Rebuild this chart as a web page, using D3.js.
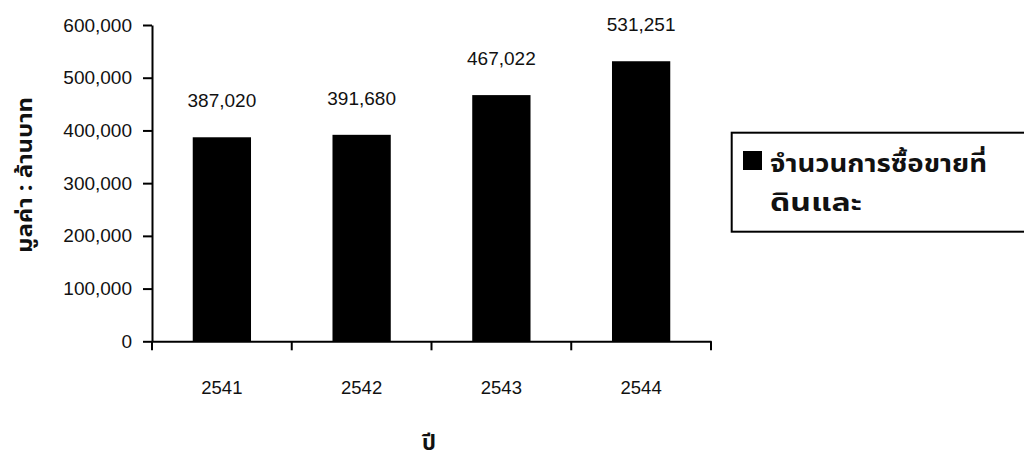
<!DOCTYPE html>
<html>
<head>
<meta charset="utf-8">
<script src="https://cdn.jsdelivr.net/npm/d3@7"></script>
<style>
  html, body { margin: 0; padding: 0; background: #ffffff; }
  svg { display: block; }
  text { font-family: "Liberation Sans", Arial, "Noto Sans Thai", sans-serif; fill: #111; }
  .thai { font-family: "Noto Sans Thai", "Loma", "Garuda", "Tahoma", "Liberation Sans", sans-serif; }
</style>
</head>
<body>
<svg id="chart" width="1024" height="460"></svg>
<script>
// ---- data ----
const years = ["2541", "2542", "2543", "2544"];
const values = [387020, 391680, 467022, 531251];
const yTickValues = [0, 100000, 200000, 300000, 400000, 500000, 600000];
const seriesName = ["จำนวนการซื้อขายที่", "ดินและ"];
const yTitle = "มูลค่า : ล้านบาท";
const xTitle = "ปี";

const svg = d3.select("#chart");
const plotLeft = 152, plotRight = 711, plotTop = 25, plotBottom = 341.3;

const y = d3.scaleLinear().domain([0, 600000]).range([plotBottom, plotTop]);
const xCat = d3.scaleBand().domain(years).range([plotLeft, plotRight]).padding(0);
const xBar = d3.scaleBand().domain(years).range([plotLeft, plotRight])
  .paddingInner(0.583).paddingOuter(0.2915);

// bars
svg.append("g").selectAll("rect").data(years).join("rect")
  .attr("x", d => xBar(d))
  .attr("width", xBar.bandwidth())
  .attr("y", (d, i) => y(values[i]))
  .attr("height", (d, i) => plotBottom - y(values[i]))
  .attr("fill", "#000");

// value labels
svg.append("g").selectAll("text").data(years).join("text")
  .attr("x", d => xBar(d) + xBar.bandwidth() / 2)
  .attr("y", (d, i) => y(values[i]) - 30)
  .attr("text-anchor", "middle")
  .style("font-size", "19px")
  .text((d, i) => d3.format(",")(values[i]));

// y axis
const yAxis = svg.append("g")
  .attr("transform", `translate(${plotLeft},0)`)
  .call(d3.axisLeft(y).tickValues(yTickValues).tickFormat(d3.format(",")).tickSize(9).tickPadding(11).tickSizeOuter(0));
yAxis.select(".domain").attr("stroke", "#000").attr("stroke-width", 2);
yAxis.selectAll(".tick line").attr("stroke", "#000").attr("stroke-width", 2);
yAxis.selectAll(".tick text").style("font-size", "19px").attr("fill", "#111")
  .style("font-family", "'Liberation Sans', Arial, sans-serif");

// x axis (labels at centers, ticks at category boundaries)
const xAxis = svg.append("g")
  .attr("transform", `translate(0,${plotBottom})`)
  .call(d3.axisBottom(xCat).tickSize(0).tickSizeOuter(0));
xAxis.select(".domain").attr("stroke", "#000").attr("stroke-width", 2);
xAxis.selectAll(".tick text").attr("y", 53).attr("dy", null)
  .style("font-size", "18.5px").attr("fill", "#111")
  .style("font-family", "'Liberation Sans', Arial, sans-serif");
const boundaries = years.map(d => xCat(d)).concat([xCat(years[years.length - 1]) + xCat.bandwidth()]);
xAxis.append("g").selectAll("line").data(boundaries).join("line")
  .attr("x1", d => d).attr("x2", d => d)
  .attr("y1", 0).attr("y2", 9)
  .attr("stroke", "#000").attr("stroke-width", 2);

// axis titles
svg.append("text").attr("class", "thai")
  .attr("transform", `translate(32,175) rotate(-90)`)
  .attr("text-anchor", "middle")
  .attr("textLength", 156).attr("lengthAdjust", "spacingAndGlyphs")
  .style("font-size", "21px").style("font-weight", "bold")
  .text(yTitle);
svg.append("text").attr("class", "thai")
  .attr("x", 429).attr("y", 450)
  .attr("text-anchor", "middle")
  .style("font-size", "22px").style("font-weight", "bold")
  .text(xTitle);

// legend
const lg = svg.append("g");
lg.append("rect").attr("x", 731.7).attr("y", 132.7).attr("width", 320).attr("height", 99)
  .attr("fill", "#fff").attr("stroke", "#000").attr("stroke-width", 2);
lg.append("rect").attr("x", 743).attr("y", 151).attr("width", 19).attr("height", 19).attr("fill", "#000");
lg.append("text").attr("class", "thai").attr("x", 770).attr("y", 171.5)
  .attr("textLength", 217).attr("lengthAdjust", "spacingAndGlyphs")
  .style("font-size", "24px").style("font-weight", "bold").text(seriesName[0]);
lg.append("text").attr("class", "thai").attr("x", 770).attr("y", 210.5)
  .attr("textLength", 92).attr("lengthAdjust", "spacingAndGlyphs")
  .style("font-size", "24px").style("font-weight", "bold").text(seriesName[1]);
</script>
</body>
</html>
